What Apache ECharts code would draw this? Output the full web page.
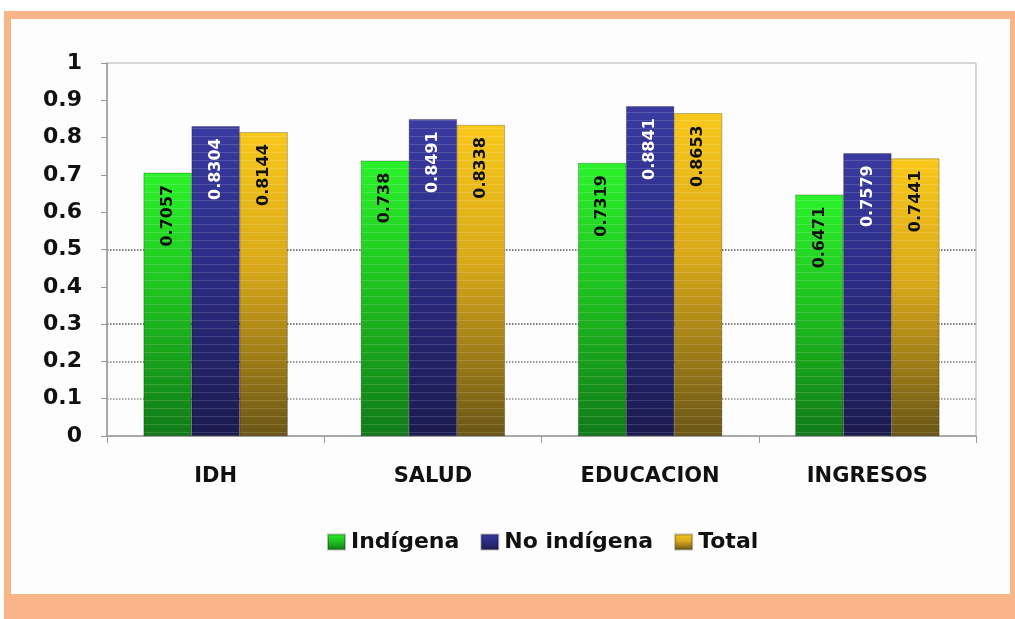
<!DOCTYPE html>
<html>
<head>
<meta charset="utf-8">
<script src="https://cdn.jsdelivr.net/npm/echarts@6/dist/echarts.min.js"></script>
<style>
  html, body { margin: 0; padding: 0; background: #ffffff; }
  .frame { position: absolute; left: 4px; top: 11px; width: 1011px; height: 608px; background: #f9b487; }
  .paper { position: absolute; left: 11px; top: 19px; width: 999px; height: 575px; background: #fdfdfd; }
  #chart { position: absolute; left: 0; top: 0; width: 1015px; height: 619px; }
</style>
</head>
<body>
<div class="frame"></div>
<div class="paper"></div>
<div id="chart"></div>
<script>
  // data
  const categories = ['IDH', 'SALUD', 'EDUCACION', 'INGRESOS'];
  const indigena = [0.7057, 0.738, 0.7319, 0.6471];
  const noIndigena = [0.8304, 0.8491, 0.8841, 0.7579];
  const total = [0.8144, 0.8338, 0.8653, 0.7441];
  const seriesNames = ['Indígena', 'No indígena', 'Total'];

  const FONT = '"DejaVu Sans", "Liberation Sans", Arial, sans-serif';

  const grad = (top, mid, bottom) =>
    new echarts.graphic.LinearGradient(0, 0, 0, 1, [
      { offset: 0, color: top },
      { offset: 0.45, color: mid },
      { offset: 1, color: bottom },
    ]);

  // only some grid lines show in the original (0.1, 0.2, 0.3, 0.5)
  const none = 'rgba(0,0,0,0)';
  const splitColors = [none, '#8a8a8a', '#7a7a7a', '#555555', none, '#555555', none, none, none, none, none];

  // thin light streaks like the original bars
  const streaks = {
    symbol: 'rect',
    symbolSize: 1,
    dashArrayX: [1, 0],
    dashArrayY: [1, 7],
    rotation: 0,
    color: 'rgba(255,255,255,0.14)',
  };

  const makeSeries = (name, data, colors, textColor) => ({
    name,
    type: 'bar',
    data,
    barWidth: 48,
    barGap: '0%',
    itemStyle: {
      color: grad(colors[0], colors[1], colors[2]),
      borderColor: 'rgba(0,0,0,0.25)',
      borderWidth: 0.5,
      decal: streaks,
    },
    label: {
      show: true,
      position: 'insideTop',
      rotate: 90,
      align: 'right',
      verticalAlign: 'middle',
      distance: 12,
      color: textColor,
      fontFamily: FONT,
      fontWeight: 'bold',
      fontSize: 16,
      formatter: (p) => String(p.value),
    },
  });

  const chart = echarts.init(document.getElementById('chart'), null, { renderer: 'canvas' });
  chart.setOption({
    backgroundColor: 'transparent',
    animation: false,
    aria: { enabled: false },
    grid: {
      left: 107,
      top: 63,
      right: 39,
      bottom: 183,
      show: true,
      borderColor: '#b0b0b0',
      borderWidth: 1,
      backgroundColor: 'transparent',
    },
    legend: {
      data: seriesNames.map((n) => ({ name: n, itemStyle: { decal: 'none' } })),
      top: 526,
      left: 322,
      itemWidth: 17,
      itemHeight: 15,
      itemGap: 21,
      icon: 'rect',
      textStyle: { fontFamily: FONT, fontWeight: 'bold', fontSize: 22, color: '#111', padding: [0, 0, 0, 1] },
    },
    xAxis: {
      type: 'category',
      data: categories,
      axisLine: { lineStyle: { color: '#999', width: 1.5 } },
      axisTick: { show: true, length: 7, lineStyle: { color: '#999' } },
      axisLabel: { margin: 30, color: '#111', fontFamily: FONT, fontWeight: 'bold', fontSize: 21 },
      splitLine: { show: false },
    },
    yAxis: {
      type: 'value',
      min: 0,
      max: 1,
      interval: 0.1,
      axisLine: { show: true, lineStyle: { color: '#999', width: 1.5 } },
      axisTick: { show: true, length: 6, lineStyle: { color: '#999' } },
      axisLabel: {
        margin: 25,
        color: '#111',
        fontFamily: FONT,
        fontWeight: 'bold',
        fontSize: 22,
        formatter: (v) => String(Math.round(v * 10) / 10),
      },
      splitLine: { show: true, lineStyle: { color: splitColors, type: 'dotted', width: 1.5 } },
    },
    series: [
      makeSeries(seriesNames[0], indigena, ['#2cf22c', '#1fc21f', '#117a18'], '#111'),
      makeSeries(seriesNames[1], noIndigena, ['#3a3aa0', '#2c2c85', '#1b1b50'], '#ffffff'),
      makeSeries(seriesNames[2], total, ['#f8c81c', '#d8a81a', '#6a5616'], '#111'),
    ],
  });
</script>
</body>
</html>
